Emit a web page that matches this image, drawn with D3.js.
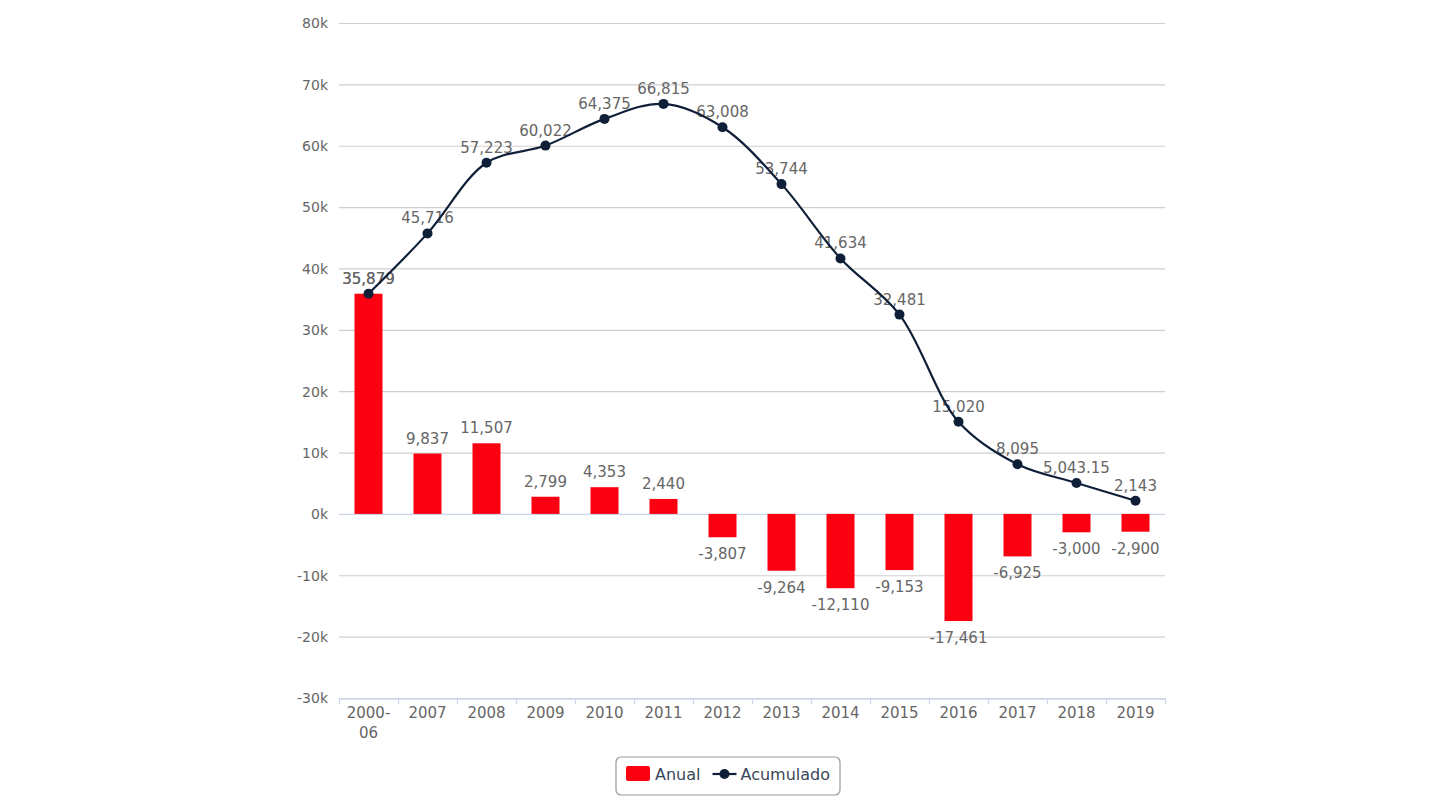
<!DOCTYPE html>
<html>
<head>
<meta charset="utf-8">
<script src="https://cdn.jsdelivr.net/npm/d3@7"></script>
<style>
  html, body { margin: 0; padding: 0; background: #fff; }
  svg text { font-family: "DejaVu Sans", Verdana, sans-serif; }
</style>
</head>
<body>
<svg id="chart" width="1440" height="810"></svg>
<script>
// data
const categories = ['2000-06', '2007', '2008', '2009', '2010', '2011', '2012',
  '2013', '2014', '2015', '2016', '2017', '2018', '2019'];
const anual = [35879, 9837, 11507, 2799, 4353, 2440, -3807,
  -9264, -12110, -9153, -17461, -6925, -3000, -2900];
const acumulado = [35879, 45716, 57223, 60022, 64375, 66815, 63008,
  53744, 41634, 32481, 15020, 8095, 5043.15, 2143];
const yTicks = [-30000, -20000, -10000, 0, 10000, 20000, 30000, 40000, 50000, 60000, 70000, 80000];

const margin = { left: 339, right: 275, top: 23, bottom: 112 };
const W = 1440, H = 810;
const svg = d3.select('#chart');

const x = d3.scaleBand()
  .domain(categories)
  .range([margin.left, W - margin.right])
  .paddingInner(0)
  .paddingOuter(0);

const y = d3.scaleLinear()
  .domain([-30000, 80000])
  .range([H - margin.bottom, margin.top]);

// plain hyphen for negatives, like the original
const fmt = v => d3.format(',')(v).replace('\u2212', '-');
const barColor = '#fa0010';
const lineColor = '#0f1f38';
const labelColor = '#666666';
const fs = 15;

// grid lines
svg.append('g')
  .selectAll('line')
  .data(yTicks)
  .join('line')
  .attr('x1', margin.left)
  .attr('x2', W - margin.right)
  .attr('y1', d => y(d) + 0.5)
  .attr('y2', d => y(d) + 0.5)
  .attr('stroke', d => d === 0 ? '#ccd6eb' : '#cfcfcf')
  .attr('stroke-width', 1.2);

// y axis labels
const yAxis = d3.axisLeft(y)
  .tickValues(yTicks)
  .tickSize(0)
  .tickPadding(0)
  .tickFormat(d => `${d / 1000}k`);

svg.append('g')
  .attr('transform', `translate(${margin.left - 11},0)`)
  .call(yAxis)
  .call(g => g.select('.domain').remove())
  .call(g => g.selectAll('text')
    .attr('fill', labelColor)
    .attr('font-size', fs - 1)
    .attr('dy', '0.35em'));

// x axis
const xAxis = d3.axisBottom(x).tickSize(0).tickPadding(0);
const xg = svg.append('g')
  .attr('transform', `translate(0,${y(-30000) + 0.5})`)
  .call(xAxis);
xg.select('.domain').attr('stroke', '#ccd6eb').attr('stroke-width', 1.5);
xg.selectAll('text').remove();

// tick marks on the band edges
xg.selectAll('line.edge')
  .data([...categories.map(c => x(c)), x.range()[1]])
  .join('line')
  .attr('class', 'edge')
  .attr('x1', d => d + 0.5)
  .attr('x2', d => d + 0.5)
  .attr('y1', 0)
  .attr('y2', 6)
  .attr('stroke', '#ccd6eb')
  .attr('stroke-width', 1.2);

// category labels, wrapped after a hyphen
xg.selectAll('text.cat')
  .data(categories)
  .join('text')
  .attr('class', 'cat')
  .attr('x', d => x(d) + x.bandwidth() / 2)
  .attr('y', 19)
  .attr('text-anchor', 'middle')
  .attr('fill', labelColor)
  .attr('font-size', fs)
  .each(function (d) {
    const parts = d.includes('-') ? [d.slice(0, d.indexOf('-') + 1), d.slice(d.indexOf('-') + 1)] : [d];
    const t = d3.select(this);
    parts.forEach((p, i) => {
      t.append('tspan')
        .attr('x', x(d) + x.bandwidth() / 2)
        .attr('dy', i === 0 ? 0 : 20)
        .text(p);
    });
  });

// bars
const barW = 28;
svg.append('g')
  .selectAll('rect')
  .data(anual)
  .join('rect')
  .attr('x', (d, i) => x(categories[i]) + (x.bandwidth() - barW) / 2)
  .attr('y', d => Math.min(y(d), y(0)))
  .attr('width', barW)
  .attr('height', d => Math.abs(y(d) - y(0)))
  .attr('fill', barColor);

// bar labels
svg.append('g')
  .selectAll('text')
  .data(anual)
  .join('text')
  .attr('x', (d, i) => x(categories[i]) + x.bandwidth() / 2)
  .attr('y', d => d >= 0 ? y(d) - 10 : y(d) + 22)
  .attr('text-anchor', 'middle')
  .attr('fill', labelColor)
  .attr('font-size', fs)
  .text(d => fmt(d));

// line labels (drawn under the line)
svg.append('g')
  .selectAll('text')
  .data(acumulado)
  .join('text')
  .attr('x', (d, i) => x(categories[i]) + x.bandwidth() / 2)
  .attr('y', d => y(d) - 10)
  .attr('text-anchor', 'middle')
  .attr('fill', labelColor)
  .attr('font-size', fs)
  .text(d => fmt(d));

// accumulated line
const line = d3.line()
  .x((d, i) => x(categories[i]) + x.bandwidth() / 2)
  .y(d => y(d))
  .curve(d3.curveCatmullRom.alpha(0.5));

svg.append('path')
  .datum(acumulado)
  .attr('d', line)
  .attr('fill', 'none')
  .attr('stroke', lineColor)
  .attr('stroke-width', 2.2);

svg.append('g')
  .selectAll('circle')
  .data(acumulado)
  .join('circle')
  .attr('cx', (d, i) => x(categories[i]) + x.bandwidth() / 2)
  .attr('cy', d => y(d))
  .attr('r', 5)
  .attr('fill', lineColor);

// legend
const legend = svg.append('g');
const box = legend.append('rect')
  .attr('fill', '#fff')
  .attr('stroke', '#999')
  .attr('stroke-width', 1.2)
  .attr('rx', 5);
const items = legend.append('g');
let cx = 0;
items.append('rect')
  .attr('x', cx).attr('y', -8)
  .attr('width', 24).attr('height', 15)
  .attr('rx', 2)
  .attr('fill', barColor);
cx += 29;
const t1 = items.append('text')
  .attr('x', cx).attr('y', 6)
  .attr('font-size', 16)
  .attr('fill', '#3a4659')
  .text('Anual');
cx += t1.node().getComputedTextLength() + 12;
items.append('line')
  .attr('x1', cx).attr('x2', cx + 24)
  .attr('y1', 0).attr('y2', 0)
  .attr('stroke', lineColor).attr('stroke-width', 2.2);
items.append('circle')
  .attr('cx', cx + 12).attr('cy', 0).attr('r', 5)
  .attr('fill', lineColor);
cx += 28;
const t2 = items.append('text')
  .attr('x', cx).attr('y', 6)
  .attr('font-size', 16)
  .attr('fill', '#3a4659')
  .text('Acumulado');
cx += t2.node().getComputedTextLength();

const pad = 10;
const legendW = cx + pad * 2;
const legendX = 728 - legendW / 2;
box.attr('x', legendX).attr('y', 757).attr('width', legendW).attr('height', 38);
items.attr('transform', `translate(${legendX + pad},${774})`);
</script>
</body>
</html>
